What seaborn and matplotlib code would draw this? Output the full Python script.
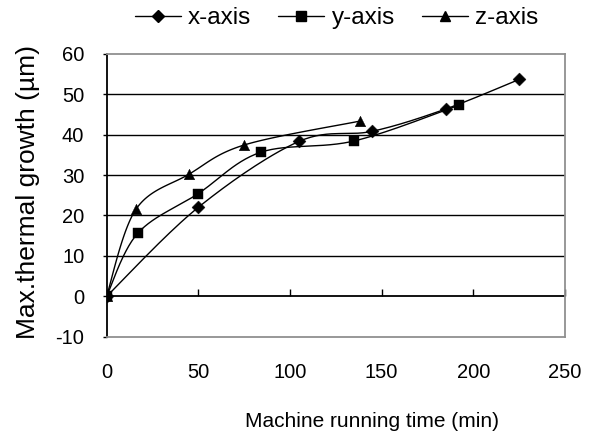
import numpy as np
import matplotlib
matplotlib.use("Agg")
import matplotlib.pyplot as plt
from matplotlib.lines import Line2D
import seaborn as sns
import pandas as pd

# ---- data ----
x_time = [0, 50, 105, 145, 185, 225]
x_growth = [0, 22.0, 38.3, 40.8, 46.3, 53.6]
y_time = [0, 17, 50, 84, 135, 192]
y_growth = [0, 15.6, 25.4, 35.6, 38.4, 47.2]
z_time = [0, 16, 45, 75, 138]
z_growth = [0, 21.5, 30.2, 37.4, 43.3]

series_names = ["x-axis", "y-axis", "z-axis"]
series_markers = ["D", "s", "^"]

x_ticks = [0, 50, 100, 150, 200, 250]
y_ticks = [-10, 0, 10, 20, 30, 40, 50, 60]

sns.set_theme(style="white")
plt.rcParams['font.family'] = ['Liberation Sans', 'DejaVu Sans']
plt.rcParams['axes.unicode_minus'] = False
for k in ['text.color', 'axes.labelcolor', 'xtick.color', 'ytick.color']:
    plt.rcParams[k] = 'black'


def smooth(xs, ys, n=30):
    """Bezier smoothing through the points (like spreadsheet smoothed lines)."""
    P = np.column_stack([np.asarray(xs, float), np.asarray(ys, float)])
    P = np.vstack([P[0], P, P[-1]])
    out = []
    for i in range(1, len(P) - 2):
        p0, p1, p2, p3 = P[i - 1], P[i], P[i + 1], P[i + 2]
        c1 = p1 + (p2 - p0) / 6.0
        c2 = p2 - (p3 - p1) / 6.0
        t = np.linspace(0, 1, n)[:, None]
        seg = ((1 - t) ** 3) * p1 + 3 * ((1 - t) ** 2) * t * c1 + 3 * (1 - t) * t ** 2 * c2 + t ** 3 * p2
        out.append(seg if i == 1 else seg[1:])
    arr = np.vstack(out)
    return arr[:, 0], arr[:, 1]


fig = plt.figure(figsize=(5.97, 4.40), dpi=100)
ax = fig.add_axes([0.1784, 0.2341, 0.9464 - 0.1784, 0.8784 - 0.2341])

data = [(x_time, x_growth), (y_time, y_growth), (z_time, z_growth)]
msizes = [6.6, 6.6, 7.6]
handles = []
for (t, g), name, mk, ms in zip(data, series_names, series_markers, msizes):
    df = pd.DataFrame({"time": t, "growth": g})
    sx, sy = smooth(t, g)
    ax.plot(sx, sy, color="black", lw=1.0, zorder=3)
    sns.scatterplot(data=df, x="time", y="growth", marker=mk, s=ms ** 2,
                    color="black", edgecolor="black", linewidth=0.3, ax=ax,
                    zorder=4, legend=False)
    handles.append(Line2D([], [], color="black", lw=1.0, marker=mk, markersize=ms))

ax.set_xlim(0, 250)
ax.set_ylim(-10, 60)
ax.set_yticks(y_ticks)
ax.set_xticks(x_ticks)

# gridlines
for v in y_ticks:
    if -10 < v < 60 and v != 0:
        ax.axhline(v, color="black", lw=1.0, zorder=1)

# spines
for s in ["top", "right", "bottom"]:
    ax.spines[s].set_color("#909090")
    ax.spines[s].set_linewidth(1.3)
ax.spines["left"].set_color("black")
ax.spines["left"].set_linewidth(1.3)

# x axis line at y=0 with upward ticks
ax.axhline(0, color="black", lw=1.3, zorder=2)
ax.tick_params(axis="x", which="both", bottom=False, labelbottom=False)
sec = ax.secondary_xaxis(10 / 70)
sec.set_xticks(x_ticks)
sec.tick_params(axis="x", direction="in", length=5, width=1.0, color="black", labelbottom=False)
sec.spines["bottom"].set_visible(False)

lab = ax.secondary_xaxis(0)
lab.set_xticks(x_ticks)
lab.tick_params(axis="x", length=0, pad=19, labelsize=14.5)
lab.spines["bottom"].set_visible(False)
lab.set_xlabel("Machine running time (min)", fontsize=15, labelpad=21, x=0.58)

ax.tick_params(axis="y", left=True, direction="out", length=3, width=1.0, color="black",
               labelsize=14.5, pad=13)
ax.set_ylabel("Max.thermal growth (µm)", fontsize=19, labelpad=11, y=0.51)
ax.set_xlabel("")

fig.legend(handles=handles, labels=series_names, loc="center",
           bbox_to_anchor=(0.5637, 0.959), ncol=3, frameon=False, fontsize=17.5,
           handlelength=1.9, handletextpad=0.3, columnspacing=1.1,
           borderpad=0, borderaxespad=0)

fig.savefig("out.png", dpi=100, facecolor="white")
